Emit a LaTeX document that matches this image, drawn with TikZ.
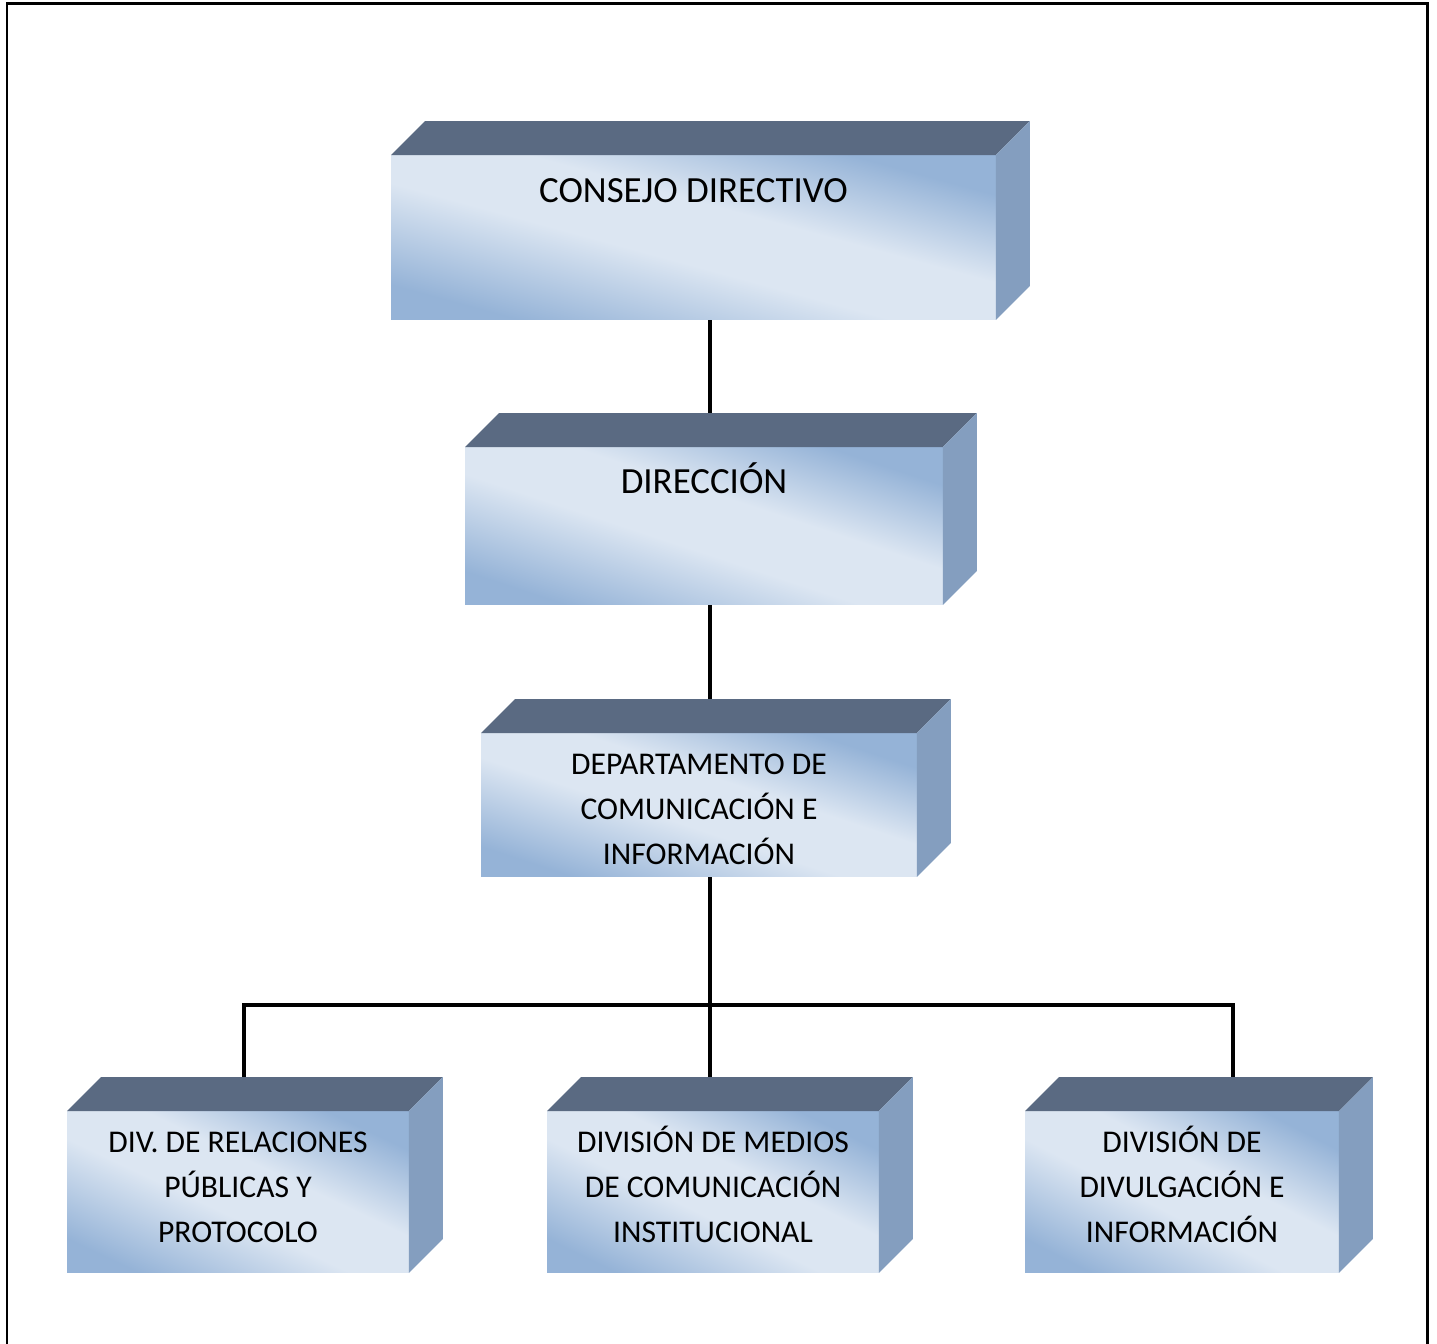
\documentclass[tikz,border=0pt]{standalone}
\usepackage{fontspec}
\setmainfont{Carlito}
\usetikzlibrary{backgrounds}

\definecolor{claro}{HTML}{DCE6F2}
\definecolor{azul}{HTML}{95B3D7}
\definecolor{techo}{HTML}{5A6A82}
\definecolor{lado}{HTML}{849EBF}
\pgfdeclarehorizontalshading{frente}{100bp}{color(0bp)=(azul); color(22bp)=(azul);
  color(44bp)=(claro); color(58bp)=(claro); color(77bp)=(azul); color(100bp)=(azul)}

\tikzset{
  cuadro/.style={rectangle, inner sep=0pt, outer sep=0pt, align=center,
    font=\fontsize{18}{25.6}\selectfont},
  linea/.style={line width=0.08cm}
}

% top and right side of a box
\newcommand{\caja}[1]{
  \fill[techo] (#1.north west) -- ([shift={(34,-34)}]#1.north west)
    -- ([shift={(34,-34)}]#1.north east) -- (#1.north east) -- cycle;
  \fill[lado] (#1.north east) -- ([shift={(34,-34)}]#1.north east)
    -- ([shift={(34,-34)}]#1.south east) -- (#1.south east) -- cycle;
}

\begin{document}
\begin{tikzpicture}[x=0.02cm, y=-0.02cm]
  \useasboundingbox (0,0) rectangle (1437,1344);
  \draw[line width=0.06cm] (7,1344) -- (7,4) -- (1427,4) -- (1427,1344);

  \node[cuadro, minimum width=12.1cm, text height=0.94cm, text depth=2.36cm,
    font=\fontsize{21}{25}\selectfont] (consejo) at (693.5,237.5) {CONSEJO DIRECTIVO};
  \node[cuadro, minimum width=9.56cm, text height=0.92cm, text depth=2.24cm,
    font=\fontsize{21}{25}\selectfont] (direccion) at (704,526) {DIRECCIÓN};
  \node[cuadro, minimum width=8.72cm, minimum height=2.88cm] (depto) at (699,805)
    {\rule{0pt}{17pt}DEPARTAMENTO DE\\COMUNICACIÓN E\\INFORMACIÓN};

  \node[cuadro, minimum width=6.84cm, minimum height=3.24cm] (relaciones) at (238,1192)
    {\rule{0pt}{15pt}DIV. DE RELACIONES\\PÚBLICAS Y\\PROTOCOLO\rule[-9pt]{0pt}{0pt}};
  \node[cuadro, minimum width=6.64cm, minimum height=3.24cm] (medios) at (713,1192)
    {\rule{0pt}{15pt}DIVISIÓN DE MEDIOS\\DE COMUNICACIÓN\\INSTITUCIONAL\rule[-9pt]{0pt}{0pt}};
  \node[cuadro, minimum width=6.28cm, minimum height=3.24cm] (divulgacion) at (1182,1192)
    {\rule{0pt}{15pt}DIVISIÓN DE\\DIVULGACIÓN E\\INFORMACIÓN\rule[-9pt]{0pt}{0pt}};

  \foreach \n in {consejo,direccion,depto,relaciones,medios,divulgacion}
    \caja{\n};

  % connectors
  \coordinate (eje) at (710,1005);
  \coordinate (busI) at (244,1005);
  \coordinate (busD) at (1233,1005);
  \begin{scope}[on background layer]
    \draw[linea] (consejo.south -| eje) -- (direccion.north -| eje);
    \draw[linea] (direccion.south -| eje) -- (depto.north -| eje);
    \draw[linea] (depto.south -| eje) -- (medios.north -| eje);
    \draw[linea] (relaciones.north -| busI) -- (busI) -- (busD) -- (divulgacion.north -| busD);
    % front faces
    \foreach \n/\w/\h in {consejo/12.1/3.3, direccion/9.56/3.16, depto/8.72/2.88,
        relaciones/6.84/3.24, medios/6.64/3.24, divulgacion/6.28/3.24}
      \shade[shading=frente, shading angle=45,
        transform canvas={shift={(\n.south west)}, xscale=\w, yscale=\h}]
        (0,0) rectangle (1cm,1cm);
  \end{scope}
\end{tikzpicture}
\end{document}
